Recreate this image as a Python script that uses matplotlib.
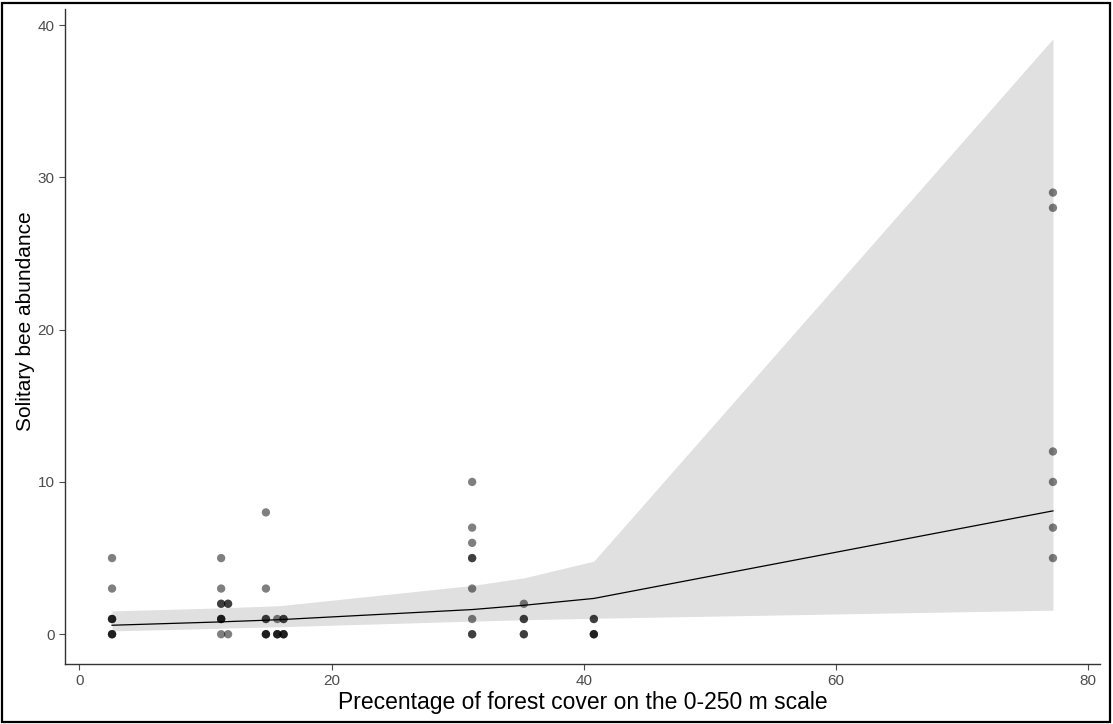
import matplotlib
matplotlib.use("Agg")
import matplotlib.pyplot as plt
from matplotlib.patches import Rectangle
import numpy as np

plt.rcParams['font.family'] = ['Liberation Sans', 'DejaVu Sans']

# observed points (forest cover %, abundance)
pt_x = ([2.6]*8 + [11.25]*8 + [11.8]*3 + [14.8]*7 + [15.7]*4 + [16.2]*5 +
        [31.15]*9 + [35.25]*5 + [40.8]*5 + [77.2]*6)
pt_y = ([5, 3, 1, 1, 1, 0, 0, 0] +
        [5, 3, 2, 2, 1, 1, 1, 0] +
        [2, 2, 0] +
        [8, 3, 1, 1, 0, 0, 0] +
        [1, 0, 0, 0] +
        [1, 1, 0, 0, 0] +
        [10, 7, 6, 5, 5, 3, 1, 0, 0] +
        [2, 1, 1, 0, 0] +
        [1, 1, 0, 0, 0] +
        [29, 28, 12, 10, 7, 5])

# fitted model and confidence band
fit_x = [2.6, 11.25, 11.8, 14.8, 15.7, 16.2, 31.15, 35.25, 40.8, 77.2]
fit_mean = [0.59, 0.81, 0.83, 0.92, 0.95, 0.97, 1.62, 1.9, 2.35, 8.1]
fit_lower = [0.22, 0.39, 0.41, 0.47, 0.49, 0.5, 0.86, 0.95, 1.05, 1.58]
fit_upper = [1.53, 1.73, 1.75, 1.84, 1.87, 1.9, 3.2, 3.7, 4.8, 39.1]

x_ticks = [0, 20, 40, 60, 80]
y_ticks = [0, 10, 20, 30, 40]

W, H = 1113, 724
fig = plt.figure(figsize=(W/100, H/100), dpi=100)
fig.patch.set_facecolor('white')

left, right, bottom, top = 65, 1100, 664, 9
ax = fig.add_axes([left/W, 1-bottom/H, (right-left)/W, (bottom-top)/H])

ax.fill_between(fit_x, fit_lower, fit_upper, color='#e0e0e0', linewidth=0, zorder=1)
ax.plot(fit_x, fit_mean, color='black', linewidth=0.9, zorder=2)
ax.scatter(pt_x, pt_y, s=36, color='black', alpha=0.5, edgecolors='none', zorder=3)

xmin, xmax = min(pt_x), max(pt_x)
xr = xmax - xmin
ax.set_xlim(xmin - 0.05*xr, xmax + 0.05*xr)
ymax = max(fit_upper)
ax.set_ylim(-0.05*ymax, ymax*1.05)

ax.set_xticks(x_ticks)
ax.set_yticks(y_ticks)
for s in ['top', 'right']:
    ax.spines[s].set_visible(False)
for s in ['left', 'bottom']:
    ax.spines[s].set_color('#333333')
    ax.spines[s].set_linewidth(1.0)
ax.tick_params(axis='both', colors='#4d4d4d', labelsize=11, length=4, width=0.8,
               labelcolor='#4d4d4d')
ax.set_xlabel('Precentage of forest cover on the 0-250 m scale', fontsize=16.5,
              color='black', labelpad=2)
ax.set_ylabel('Solitary bee abundance', fontsize=15, color='black', va='center')
ax.yaxis.set_label_coords(-0.0386, 0.524)

fig.patches.append(Rectangle((2/W, 2/H), 1-5/W, 1-5/H, transform=fig.transFigure,
                             fill=False, edgecolor='black', linewidth=1.6))

fig.savefig('out.png', dpi=100)
